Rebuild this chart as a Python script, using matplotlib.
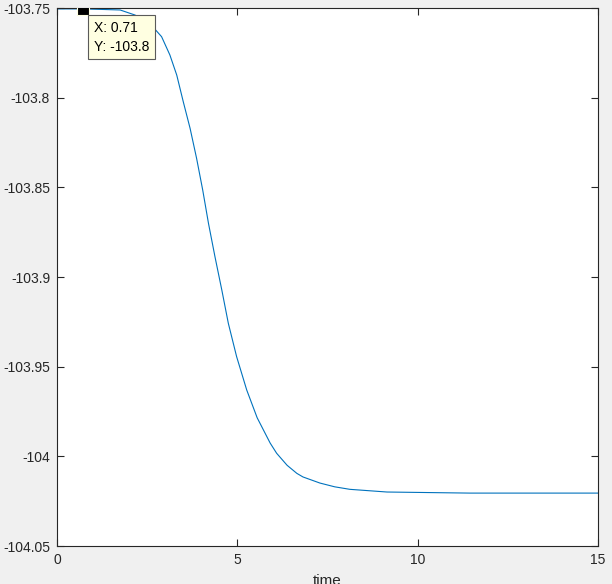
import matplotlib
matplotlib.use("Agg")
import matplotlib.pyplot as plt

# values
time = [0.0, 0.71, 1.25, 1.75, 2.16, 2.40, 2.63, 2.90, 3.13, 3.32, 3.50, 3.69, 3.87,
        4.04, 4.20, 4.38, 4.57, 4.75, 4.98, 5.26, 5.55, 5.91, 6.09, 6.38, 6.65, 6.82,
        7.29, 7.70, 8.12, 9.15, 11.45, 15.0]
energy = [-103.7505, -103.7505, -103.7508, -103.7511, -103.7539, -103.7565, -103.7599,
          -103.7660, -103.7762, -103.7874, -103.8022, -103.8171, -103.8338, -103.8515,
          -103.8701, -103.8887, -103.9073, -103.9258, -103.9444, -103.9630, -103.9785,
          -103.9926, -103.9983, -104.0050, -104.0095, -104.0115, -104.0149, -104.0170,
          -104.0184, -104.0199, -104.0205, -104.0205]

tip_x = 0.71
tip_y = -103.7505
tip_label = "X: 0.71\nY: -103.8"

plt.rcParams['font.family'] = ['Liberation Sans', 'DejaVu Sans']
fig = plt.figure(figsize=(6.12, 5.84), dpi=100, facecolor='#f0f0f0')
ax = fig.add_axes([57/612, 38/584, 541/612, 538/584])

ax.plot(time, energy, color='#0072BD', linewidth=0.8)
ax.plot([tip_x], [tip_y], marker='s', markersize=8.5, color='black',
        markeredgecolor='#ffffe1', markeredgewidth=0.8, linestyle='none', zorder=5)
ax.annotate(tip_label, xy=(tip_x, tip_y), xytext=(11, -12), textcoords='offset pixels',
            ha='left', va='top', fontsize=10, linespacing=1.45, zorder=6,
            bbox=dict(boxstyle='square,pad=0.4', fc='#ffffe1', ec='#5a5a5a', lw=0.8))

ax.set_xlim(0, 15)
ax.set_ylim(-104.05, -103.75)
ax.set_xticks([0, 5, 10, 15])
ax.set_yticks([-104.05, -104, -103.95, -103.9, -103.85, -103.8, -103.75])
ax.set_yticklabels(['-104.05', '-104', '-103.95', '-103.9', '-103.85', '-103.8', '-103.75'])
ax.tick_params(direction='in', top=True, right=True, length=5, width=0.8,
               colors='#262626', labelsize=10, pad=5)
for s in ax.spines.values():
    s.set_color('#262626')
    s.set_linewidth(0.8)

fig.text(327.5/612, 1 - 574/584, 'time', ha='center', va='top', fontsize=11, color='#262626')
fig.text(-6/612, 1 - 245/584, 'Energy (eV)', ha='center', va='center', rotation=90,
         fontsize=11, color='#262626')

fig.savefig("out.png", dpi=100, facecolor=fig.get_facecolor())
